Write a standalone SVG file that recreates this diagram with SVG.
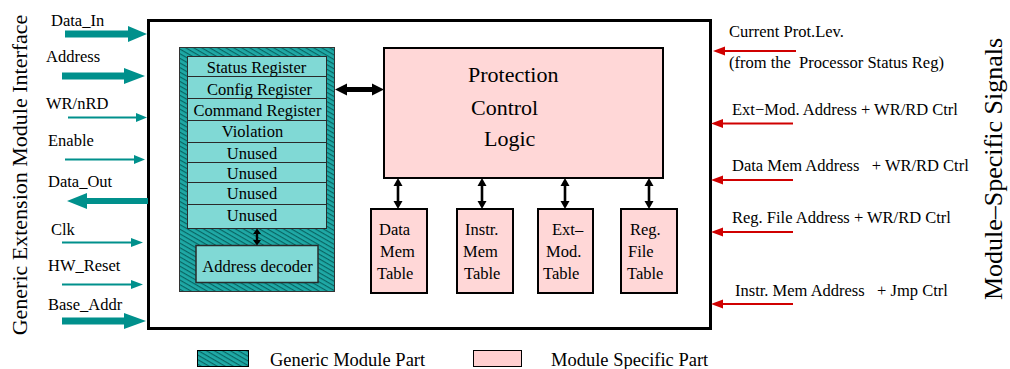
<svg xmlns="http://www.w3.org/2000/svg" width="1010" height="369" viewBox="0 0 1010 369">
<style>
text{font-family:"Liberation Serif","Times New Roman",serif;fill:#000;}
.s{font-size:16.5px;}
.m{text-anchor:middle;}
.big{font-size:22px;}
.leg{font-size:18.5px;}
.cell{fill:#80d9d5;stroke:#2a2a2a;stroke-width:1;}
.pink{fill:#ffd7d7;stroke:#000;stroke-width:2;}
.teal{fill:#00908c;}
.tl{stroke:#00908c;stroke-width:2;fill:none;}
.red{fill:#d00000;}
.rl{stroke:#d00000;stroke-width:2;fill:none;}
.blk{fill:#000;}
</style>
<defs>
<pattern id="hatch" width="4" height="4" patternUnits="userSpaceOnUse" patternTransform="rotate(30)">
<rect width="4" height="4" fill="#1fa9a6"/>
<line x1="0" y1="0.6" x2="4" y2="0.6" stroke="#06605e" stroke-width="1.1"/>
</pattern>
</defs>
<rect width="1010" height="369" fill="#fff"/>

<g id="side-labels">
<text class="big" transform="translate(27,175) rotate(-90)" text-anchor="middle">Generic Extension Module Interface</text>
<text transform="translate(1002,169) rotate(-90)" text-anchor="middle" style="font-size:26px">Module–Specific Signals</text>
</g>

<g id="module">
<rect x="148.5" y="20.5" width="562" height="308" fill="#fff" stroke="#000" stroke-width="3"/>
</g>

<g id="generic-part">
<rect x="179.5" y="47.5" width="155" height="244" fill="url(#hatch)" stroke="#333" stroke-width="1"/>
<rect class="cell" x="187.5" y="56.5" width="139" height="20"/>
<rect class="cell" x="187.5" y="76.5" width="139" height="22"/>
<rect class="cell" x="187.5" y="98.5" width="139" height="22"/>
<rect class="cell" x="187.5" y="120.5" width="139" height="22"/>
<rect class="cell" x="187.5" y="142.5" width="139" height="20"/>
<rect class="cell" x="187.5" y="162.5" width="139" height="20"/>
<rect class="cell" x="187.5" y="182.5" width="139" height="22"/>
<rect class="cell" x="187.5" y="204.5" width="139" height="24"/>
<text class="s m" x="256.5" y="73">Status Register</text>
<text class="s m" x="259.5" y="95">Config Register</text>
<text class="s m" x="257.5" y="116">Command Register</text>
<text class="s m" x="252.5" y="137">Violation</text>
<text class="s m" x="252" y="159">Unused</text>
<text class="s m" x="252" y="179">Unused</text>
<text class="s m" x="252" y="199">Unused</text>
<text class="s m" x="252" y="221">Unused</text>
</g>

<g id="address-decoder">
<rect x="196" y="245.5" width="122" height="37" fill="#80d9d5" stroke="#2a2a2a" stroke-width="1.5"/>
<text class="s m" x="257.5" y="272">Address decoder</text>
</g>

<g id="protection-control-logic">
<rect class="pink" x="384" y="48" width="279" height="130"/>
<text class="big" x="468" y="82">Protection</text>
<text class="big" x="471" y="115">Control</text>
<text class="big" x="484" y="146">Logic</text>
</g>

<g id="data-mem-table">
<rect class="pink" x="371" y="209" width="56" height="84"/>
<text class="s" x="379" y="235">Data</text>
<text class="s" x="380" y="257">Mem</text>
<text class="s" x="377" y="279">Table</text>
</g>
<g id="instr-mem-table">
<rect class="pink" x="457" y="209" width="56" height="84"/>
<text class="s" x="465" y="235">Instr.</text>
<text class="s" x="463" y="257">Mem</text>
<text class="s" x="464" y="279">Table</text>
</g>
<g id="ext-mod-table">
<rect class="pink" x="538" y="209" width="55" height="84"/>
<text class="s" x="552" y="235">Ext–</text>
<text class="s" x="546" y="257">Mod.</text>
<text class="s" x="543" y="279">Table</text>
</g>
<g id="reg-file-table">
<rect class="pink" x="621" y="209" width="56" height="84"/>
<text class="s" x="630" y="235">Reg.</text>
<text class="s" x="628" y="257">File</text>
<text class="s" x="627" y="279">Table</text>
</g>

<g id="left-labels">
<text class="s" x="51" y="26">Data_In</text>
<text class="s" x="46" y="62">Address</text>
<text class="s" x="46" y="109">WR/nRD</text>
<text class="s" x="48" y="146">Enable</text>
<text class="s" x="48" y="187">Data_Out</text>
<text class="s" x="51" y="235">Clk</text>
<text class="s" x="48" y="271">HW_Reset</text>
<text class="s" x="48" y="310">Base_Addr</text>
</g>

<g id="right-labels">
<text class="s" x="729" y="37">Current Prot.Lev.</text>
<text class="s" x="729" y="68" xml:space="preserve">(from the  Processor Status Reg)</text>
<text class="s" x="732" y="114.5">Ext−Mod. Address + WR/RD Ctrl</text>
<text class="s" x="732" y="170.5" xml:space="preserve">Data Mem Address   + WR/RD Ctrl</text>
<text class="s" x="732" y="222.5">Reg. File Address + WR/RD Ctrl</text>
<text class="s" x="735" y="296" xml:space="preserve">Instr. Mem Address   + Jmp Ctrl</text>
</g>

<g id="connectors">
<polygon class="teal" points="65,30.5 128,30.5 128,26 147,34 128,42 128,37.5 65,37.5"/>
<polygon class="teal" points="62,72.5 124,72.5 124,68 145,76 124,84 124,79.5 62,79.5"/>
<line class="tl" x1="68" y1="117.5" x2="138" y2="117.5"/>
<polygon class="teal" points="136,113 147,117.5 136,122"/>
<line class="tl" x1="65" y1="159.5" x2="135" y2="159.5"/>
<polygon class="teal" points="134,155 145,159.5 134,164"/>
<polygon class="teal" points="148,198 87,198 87,193 67,201 87,209 87,204 148,204"/>
<line class="tl" x1="62" y1="242.5" x2="132" y2="242.5"/>
<polygon class="teal" points="131,238 143,242.5 131,247"/>
<line class="tl" x1="62" y1="284.5" x2="132" y2="284.5"/>
<polygon class="teal" points="131,280 143,284.5 131,289"/>
<polygon class="teal" points="62,317.5 124,317.5 124,313 146,321 124,329 124,324.5 62,324.5"/>
<line class="rl" x1="796" y1="51" x2="722" y2="51"/>
<polygon class="red" points="725,46.5 713,51 725,55.5"/>
<line class="rl" x1="793" y1="123.5" x2="720" y2="123.5"/>
<polygon class="red" points="723,119 711,123.5 723,128"/>
<line class="rl" x1="793" y1="180" x2="720" y2="180"/>
<polygon class="red" points="723,175.5 711,180 723,184.5"/>
<line class="rl" x1="793" y1="232" x2="720" y2="232"/>
<polygon class="red" points="723,227.5 711,232 723,236.5"/>
<line class="rl" x1="793" y1="304" x2="720" y2="304"/>
<polygon class="red" points="723,299.5 711,304 723,308.5"/>
<polygon class="blk" points="335,89.5 347,83.5 347,87 372,87 372,83.5 384,89.5 372,95.5 372,92 347,92 347,95.5"/>
<polygon class="blk" points="257,228.5 261,234 258.2,234 258.2,240 261,240 257,245.5 253,240 255.8,240 255.8,234 253,234"/>
<polygon class="blk" points="398,178 402.5,186 399.3,186 399.3,201 402.5,201 398,209 393.5,201 396.7,201 396.7,186 393.5,186"/>
<polygon class="blk" points="482,178 486.5,186 483.3,186 483.3,201 486.5,201 482,209 477.5,201 480.7,201 480.7,186 477.5,186"/>
<polygon class="blk" points="565,178 569.5,186 566.3,186 566.3,201 569.5,201 565,209 560.5,201 563.7,201 563.7,186 560.5,186"/>
<polygon class="blk" points="649,178 653.5,186 650.3,186 650.3,201 653.5,201 649,209 644.5,201 647.7,201 647.7,186 644.5,186"/>
</g>

<g id="legend">
<rect x="197.5" y="350.5" width="51" height="16" fill="url(#hatch)" stroke="#000" stroke-width="1"/>
<text class="leg" x="270" y="366">Generic Module Part</text>
<rect x="473.5" y="350.5" width="48" height="16" fill="#ffd0d0" stroke="#000" stroke-width="1"/>
<text class="leg" x="551" y="366">Module Specific Part</text>
</g>
</svg>
